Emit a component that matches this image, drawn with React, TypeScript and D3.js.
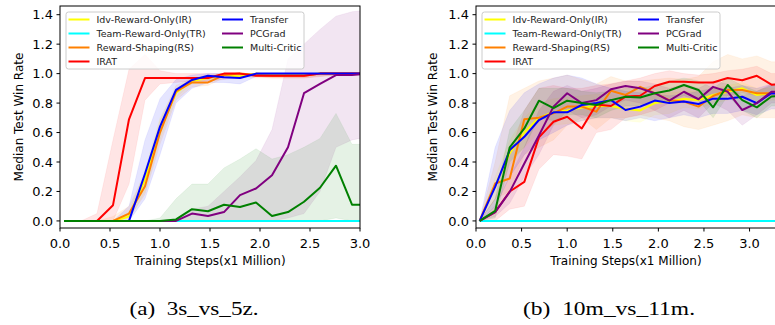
import React, { useEffect, useRef } from 'react';
import * as d3 from 'd3';

// x positions of the logged evaluations (millions of steps)
const stepsA = [0.04, 0.21, 0.37, 0.53, 0.69, 0.85, 1.0, 1.16, 1.32, 1.48, 1.64, 1.80, 1.96, 2.12, 2.28, 2.44, 2.60, 2.76, 2.92, 3.08];
const stepsB = [0.04, 0.21, 0.37, 0.53, 0.69, 0.85, 1.0, 1.16, 1.32, 1.48, 1.64, 1.80, 1.96, 2.12, 2.28, 2.44, 2.60, 2.76, 2.92, 3.08, 3.24, 3.40];

const methods = ['Idv-Reward-Only(IR)', 'Team-Reward-Only(TR)', 'Reward-Shaping(RS)', 'IRAT', 'Transfer', 'PCGrad', 'Multi-Critic'];
const colors = ['#ffff00', '#00ffff', '#ff8000', '#ff0000', '#0000ff', '#800080', '#008000'];

const yTicks = [0.0, 0.2, 0.4, 0.6, 0.8, 1.0, 1.2, 1.4];
const xTicksA = [0.0, 0.5, 1.0, 1.5, 2.0, 2.5, 3.0];
const xTicksB = [0.0, 0.5, 1.0, 1.5, 2.0, 2.5, 3.0];

// (a) 3s_vs_5z medians
const irA = [0, 0, 0, 0, 0.03, 0.28, 0.62, 0.87, 0.95, 0.97, 0.99, 0.98, 1.0, 0.99, 0.99, 0.99, 1.0, 1.0, 1.0, 1.0];
const trA = [0, 0, 0, 0, 0, 0, 0, 0, 0, 0, 0, 0, 0, 0, 0, 0, 0, 0, 0, 0];
const rsA = [0, 0, 0, 0, 0.05, 0.236, 0.6, 0.88, 0.94, 0.94, 0.99, 1.0, 0.99, 0.985, 0.985, 0.985, 1.0, 1.0, 1.0, 1.0];
const iratA = [0, 0, 0, 0.107, 0.69, 0.97, 0.97, 0.97, 0.97, 0.97, 1.0, 1.0, 0.985, 0.985, 0.985, 0.985, 1.0, 1.0, 1.0, 1.0];
const transferA = [0, 0, 0, 0, 0, 0.32, 0.64, 0.89, 0.957, 0.985, 0.975, 0.97, 1.0, 1.0, 1.0, 1.0, 1.0, 1.0, 1.0, 1.0];
const pcgradA = [0, 0, 0, 0, 0, 0, 0, 0, 0.05, 0.034, 0.06, 0.175, 0.22, 0.31, 0.5, 0.867, 0.93, 0.99, 0.99, 1.0];
const mcA = [0, 0, 0, 0, 0, 0, 0, 0.01, 0.08, 0.066, 0.11, 0.095, 0.125, 0.034, 0.06, 0.13, 0.225, 0.375, 0.11, 0.11];

// (a) quantile bands
const irLoA = [0, 0, 0, 0, 0, 0.2, 0.55, 0.84, 0.93, 0.96, 0.98, 0.97, 0.99, 0.98, 0.98, 0.98, 0.99, 0.99, 0.99, 0.99];
const irHiA = [0, 0, 0, 0, 0.06, 0.35, 0.7, 0.9, 0.97, 0.99, 1.0, 1.0, 1.0, 1.0, 1.0, 1.0, 1.0, 1.0, 1.0, 1.0];
const rsLoA = [0, 0, 0, 0, 0.02, 0.18, 0.52, 0.82, 0.91, 0.92, 0.97, 0.98, 0.97, 0.97, 0.97, 0.97, 0.98, 0.99, 0.99, 0.99];
const rsHiA = [0, 0, 0, 0.03, 0.1, 0.32, 0.68, 0.92, 0.97, 0.97, 1.0, 1.0, 1.0, 1.0, 1.0, 1.0, 1.0, 1.0, 1.0, 1.0];
const iratLoA = [0, 0, 0, 0, 0.25, 0.82, 0.93, 0.94, 0.95, 0.95, 0.96, 0.98, 0.98, 0.97, 0.97, 0.97, 0.98, 0.99, 0.99, 0.99];
const iratHiA = [0, 0, 0.05, 0.55, 1.03, 1.13, 1.02, 1.0, 1.0, 1.0, 1.0, 1.0, 1.0, 1.0, 1.0, 1.0, 1.0, 1.0, 1.0, 1.0];
const transferLoA = [0, 0, 0, 0, 0, 0.15, 0.45, 0.8, 0.9, 0.94, 0.94, 0.93, 0.98, 0.99, 0.99, 0.99, 0.99, 0.99, 0.99, 0.99];
const transferHiA = [0, 0, 0, 0, 0.1, 0.55, 0.83, 0.96, 0.99, 1.0, 1.0, 1.0, 1.0, 1.0, 1.0, 1.0, 1.0, 1.0, 1.0, 1.0];
const pcgradLoA = [0, 0, 0, 0, 0, 0, 0, 0, 0, 0, 0, 0, 0, 0, 0.02, 0.05, 0.2, 0.5, 0.55, 0.57];
const pcgradHiA = [0, 0, 0, 0, 0, 0, 0, 0.01, 0.08, 0.1, 0.2, 0.3, 0.41, 0.62, 1.1, 1.2, 1.3, 1.39, 1.42, 1.43];
const mcLoA = [0, 0, 0, 0, 0, 0, 0, 0, 0, 0, 0, 0, 0, 0, 0, 0, 0, 0.02, 0, 0];
const mcHiA = [0, 0, 0, 0, 0, 0, 0.02, 0.15, 0.25, 0.25, 0.36, 0.42, 0.49, 0.42, 0.45, 0.5, 0.56, 0.73, 0.52, 0.52];

// (b) 10m_vs_11m medians
const irB = [0, 0.24, 0.46, 0.6, 0.7, 0.74, 0.75, 0.77, 0.78, 0.78, 0.76, 0.75, 0.80, 0.81, 0.83, 0.82, 0.855, 0.877, 0.90, 0.855, 0.867, 0.87];
const trB = [0, 0, 0, 0, 0, 0, 0, 0, 0, 0, 0, 0, 0, 0, 0, 0, 0, 0, 0, 0, 0, 0];
const rsB = [0, 0.254, 0.288, 0.69, 0.70, 0.73, 0.776, 0.776, 0.742, 0.884, 0.855, 0.91, 0.867, 0.82, 0.81, 0.776, 0.848, 0.889, 0.889, 0.867, 0.867, 0.87];
const iratB = [0, 0.06, 0.2, 0.265, 0.567, 0.673, 0.707, 0.628, 0.79, 0.78, 0.844, 0.85, 0.916, 0.945, 0.945, 0.94, 0.94, 0.97, 0.955, 0.985, 0.925, 0.93];
const transferB = [0, 0.231, 0.481, 0.571, 0.685, 0.737, 0.737, 0.787, 0.80, 0.82, 0.753, 0.776, 0.817, 0.80, 0.81, 0.794, 0.83, 0.83, 0.843, 0.80, 0.867, 0.86];
const pcgradB = [0, 0.06, 0.197, 0.39, 0.58, 0.776, 0.867, 0.8, 0.82, 0.894, 0.916, 0.9, 0.867, 0.816, 0.877, 0.826, 0.91, 0.877, 0.753, 0.80, 0.877, 0.88];
const mcB = [0, 0.068, 0.5, 0.628, 0.816, 0.765, 0.816, 0.8, 0.787, 0.82, 0.843, 0.838, 0.867, 0.885, 0.923, 0.889, 0.771, 0.923, 0.82, 0.771, 0.845, 0.85];

// (b) quantile bands
const irLoB = [0, 0.15, 0.38, 0.5, 0.6, 0.65, 0.66, 0.68, 0.7, 0.7, 0.68, 0.67, 0.72, 0.73, 0.77, 0.76, 0.8, 0.82, 0.85, 0.8, 0.82, 0.82];
const irHiB = [0, 0.3, 0.55, 0.7, 0.8, 0.83, 0.84, 0.85, 0.86, 0.86, 0.84, 0.83, 0.86, 0.87, 0.88, 0.88, 0.9, 0.92, 0.94, 0.9, 0.9, 0.9];
const rsLoB = [0, 0.15, 0.2, 0.45, 0.5, 0.55, 0.65, 0.7, 0.62, 0.7, 0.7, 0.72, 0.7, 0.68, 0.64, 0.62, 0.65, 0.68, 0.72, 0.7, 0.7, 0.7];
const rsHiB = [0, 0.4, 0.85, 0.9, 0.95, 0.97, 0.99, 0.96, 0.93, 0.98, 0.95, 0.95, 0.96, 0.97, 0.96, 0.98, 1.08, 1.13, 1.1, 1.12, 1.08, 1.08];
const iratLoB = [0, 0, 0.08, 0.1, 0.35, 0.45, 0.44, 0.42, 0.6, 0.62, 0.7, 0.72, 0.75, 0.8, 0.8, 0.82, 0.85, 0.85, 0.87, 0.85, 0.85, 0.85];
const iratHiB = [0, 0.15, 0.45, 0.75, 0.9, 0.92, 0.9, 0.9, 0.92, 0.93, 0.95, 0.97, 1.0, 1.02, 1.0, 0.99, 1.0, 1.02, 1.03, 1.05, 1.0, 1.0];
const transferLoB = [0, 0.1, 0.3, 0.45, 0.55, 0.6, 0.65, 0.68, 0.7, 0.7, 0.68, 0.7, 0.68, 0.70, 0.72, 0.70, 0.73, 0.73, 0.75, 0.72, 0.76, 0.76];
const transferHiB = [0, 0.5, 0.75, 0.87, 0.93, 0.97, 0.99, 0.97, 0.93, 0.9, 0.88, 0.87, 0.86, 0.85, 0.86, 0.88, 0.9, 0.9, 0.92, 0.9, 0.93, 0.93];
const pcgradLoB = [0, 0.03, 0.12, 0.3, 0.45, 0.65, 0.75, 0.7, 0.72, 0.78, 0.82, 0.8, 0.75, 0.7, 0.75, 0.7, 0.8, 0.75, 0.65, 0.72, 0.8, 0.8];
const pcgradHiB = [0, 0.1, 0.3, 0.5, 0.75, 0.88, 0.92, 0.88, 0.9, 0.93, 0.95, 0.95, 0.93, 0.9, 0.93, 0.9, 0.95, 0.93, 0.85, 0.88, 0.93, 0.93];
const mcLoB = [0, 0.02, 0.4, 0.5, 0.7, 0.68, 0.72, 0.72, 0.7, 0.75, 0.78, 0.78, 0.8, 0.82, 0.85, 0.82, 0.7, 0.85, 0.75, 0.7, 0.78, 0.78];
const mcHiB = [0, 0.15, 0.62, 0.75, 0.9, 0.9, 0.9, 0.88, 0.87, 0.88, 0.9, 0.9, 0.92, 0.95, 0.97, 0.95, 0.9, 0.97, 0.92, 0.88, 0.92, 0.92];

const panels = [
  {
    id: 'a', left: 60, right: 360, xMax: 3.0, steps: stepsA, xTicks: xTicksA, ylabX: 19, caption: '(a)  3s_vs_5z.', capX: 194, capW: 129,
    medians: [irA, trA, rsA, iratA, transferA, pcgradA, mcA],
    bands: [[irLoA, irHiA], null, [rsLoA, rsHiA], [iratLoA, iratHiA], [transferLoA, transferHiA], [pcgradLoA, pcgradHiA], [mcLoA, mcHiA]],
  },
  {
    id: 'b', left: 476, right: 776, xMax: 3.29, steps: stepsB, xTicks: xTicksB, ylabX: 433, caption: '(b)  10m_vs_11m.', capX: 609, capW: 172,
    medians: [irB, trB, rsB, iratB, transferB, pcgradB, mcB],
    bands: [[irLoB, irHiB], null, [rsLoB, rsHiB], [iratLoB, iratHiB], [transferLoB, transferHiB], [pcgradLoB, pcgradHiB], [mcLoB, mcHiB]],
  },
];

const App = () => {
  const ref = useRef(null);

  useEffect(() => {
    const width = 775;
    const height = 325;
    const top = 6;
    const bottom = 228;
    const font = 'DejaVu Sans, sans-serif';

    d3.select(ref.current).select('svg').remove();
    const svg = d3
      .select(ref.current)
      .append('svg')
      .attr('width', width)
      .attr('height', height)
      .style('position', 'absolute')
      .style('left', 0)
      .style('top', 0);

    svg.append('rect').attr('width', width).attr('height', height).attr('fill', '#fff');

    panels.forEach(p => {
      const x = d3.scaleLinear().domain([0, p.xMax]).range([p.left, p.right]);
      const y = d3.scaleLinear().domain([-0.048, 1.459]).range([bottom, top]);

      svg.append('clipPath').attr('id', `clip-${p.id}`)
        .append('rect').attr('x', p.left).attr('y', top).attr('width', p.right - p.left).attr('height', bottom - top);

      const plot = svg.append('g').attr('clip-path', `url(#clip-${p.id})`);

      // shaded bands
      p.bands.forEach((b, i) => {
        if (!b) return;
        const area = d3.area()
          .x((d, j) => x(p.steps[j]))
          .y0((d, j) => y(b[0][j]))
          .y1((d, j) => y(b[1][j]));
        plot.append('path').attr('d', area(b[0])).attr('fill', colors[i]).attr('fill-opacity', 0.1)
          .attr('stroke', colors[i]).attr('stroke-opacity', 0.06);
      });

      // median lines
      p.medians.forEach((m, i) => {
        const line = d3.line().x((d, j) => x(p.steps[j])).y(d => y(d));
        plot.append('path').attr('d', line(m)).attr('fill', 'none').attr('stroke', colors[i])
          .attr('stroke-width', 2).attr('stroke-linejoin', 'round');
      });

      // frame
      svg.append('rect').attr('x', p.left).attr('y', top).attr('width', p.right - p.left).attr('height', bottom - top)
        .attr('fill', 'none').attr('stroke', '#000').attr('stroke-width', 1);

      // y ticks
      yTicks.forEach(t => {
        svg.append('line').attr('x1', p.left - 3.5).attr('x2', p.left).attr('y1', y(t)).attr('y2', y(t)).attr('stroke', '#000');
        svg.append('text').attr('x', p.left - 7).attr('y', y(t)).attr('dy', '0.36em').attr('text-anchor', 'end')
          .attr('font-family', font).attr('font-size', 13).attr('fill', '#000').text(t.toFixed(1));
      });
      // x ticks
      p.xTicks.forEach(t => {
        svg.append('line').attr('x1', x(t)).attr('x2', x(t)).attr('y1', bottom).attr('y2', bottom + 3.5).attr('stroke', '#000');
        svg.append('text').attr('x', x(t)).attr('y', 248).attr('text-anchor', 'middle')
          .attr('font-family', font).attr('font-size', 13).attr('fill', '#000').text(t.toFixed(1));
      });

      svg.append('text').attr('x', (p.left + p.right) / 2).attr('y', 265).attr('text-anchor', 'middle')
        .attr('font-family', font).attr('font-size', 12).attr('fill', '#000').text('Training Steps(x1 Million)');
      svg.append('text').attr('transform', `translate(${p.ylabX},${(top + bottom) / 2}) rotate(-90)`)
        .attr('dy', '0.36em').attr('text-anchor', 'middle')
        .attr('font-family', font).attr('font-size', 12).attr('fill', '#000').text('Median Test Win Rate');

      // legend
      const lx = p.left + 6;
      const lg = svg.append('g');
      lg.append('rect').attr('x', lx).attr('y', 12).attr('width', 238).attr('height', 57).attr('rx', 2.5)
        .attr('fill', '#fff').attr('fill-opacity', 0.8).attr('stroke', '#ccc');
      methods.forEach((name, i) => {
        const col = i < 4 ? 0 : 1;
        const row = i < 4 ? i : i - 4;
        const ex = lx + 2.5 + col * 153.5;
        const ey = 19.5 + row * 14;
        lg.append('line').attr('x1', ex).attr('x2', ex + 21).attr('y1', ey).attr('y2', ey)
          .attr('stroke', colors[i]).attr('stroke-width', 2);
        lg.append('text').attr('x', ex + 28).attr('y', ey).attr('dy', '0.36em')
          .attr('font-family', font).attr('font-size', 9.5).attr('fill', '#222').text(name);
      });

      // caption
      svg.append('text').attr('x', p.capX).attr('y', 315).attr('text-anchor', 'middle')
        .attr('font-family', 'Liberation Serif, Times New Roman, serif').attr('font-size', 18)
        .attr('textLength', p.capW).attr('lengthAdjust', 'spacingAndGlyphs')
        .attr('fill', '#000').attr('xml:space', 'preserve').text(p.caption);
    });
  }, []);

  return <div ref={ref}></div>;
};

export default App;
